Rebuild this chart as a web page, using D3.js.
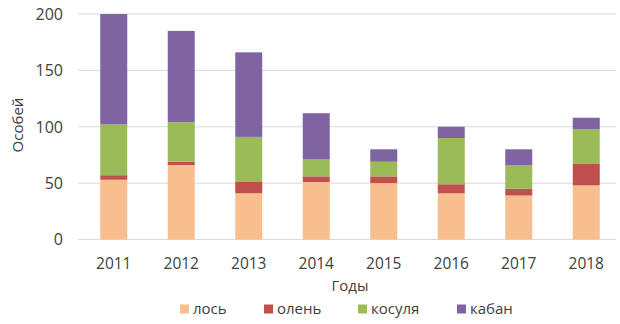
<!DOCTYPE html>
<html>
<head>
<meta charset="utf-8">
<script src="https://cdn.jsdelivr.net/npm/d3@7"></script>
<style>
  html, body { margin: 0; padding: 0; background: #fff; }
  text { font-family: "Open Sans", sans-serif; fill: #404040; }
</style>
</head>
<body>
<svg id="chart" width="620" height="324"></svg>
<script>
const years = ["2011", "2012", "2013", "2014", "2015", "2016", "2017", "2018"];
const seriesNames = ["лось", "олень", "косуля", "кабан"];
const los    = [53, 66, 41, 51, 50, 41, 39, 48];
const olen   = [4, 3, 10, 5, 6, 8, 6, 19];
const kosulya = [45, 35, 40, 15, 13, 41, 21, 31];
const kaban  = [98, 81, 75, 41, 11, 10, 14, 10];
const yTicks = [0, 50, 100, 150, 200];
const colors = ["#F9BE8E", "#C0504D", "#9BBB59", "#8064A2"];

const rows = years.map((y, i) => ({
  year: y, "лось": los[i], "олень": olen[i], "косуля": kosulya[i], "кабан": kaban[i]
}));

const svg = d3.select("#chart");
const x = d3.scaleBand().domain(years).range([80, 620]).paddingInner(0.6).paddingOuter(0.3);
const y = d3.scaleLinear().domain([0, 200]).range([239.5, 14]);

// gridlines
svg.append("g").selectAll("line").data(yTicks).join("line")
  .attr("x1", 78).attr("x2", 616)
  .attr("y1", d => y(d)).attr("y2", d => y(d))
  .attr("stroke", "#d9d9d9").attr("stroke-width", 1);

// y labels
const yAxis = d3.axisLeft(y).tickValues(yTicks).tickSize(0).tickPadding(0);
const gy = svg.append("g").attr("transform", "translate(63,0)").call(yAxis);
gy.select(".domain").remove();
gy.selectAll("text").style("font-size", "16px").attr("fill", "#404040").attr("dy", "0.34em");

// stacked bars
const stack = d3.stack().keys(seriesNames)(rows);
svg.append("g").selectAll("g").data(stack).join("g")
  .attr("fill", (d, i) => colors[i])
  .selectAll("rect").data(d => d).join("rect")
  .attr("x", d => x(d.data.year))
  .attr("width", x.bandwidth())
  .attr("y", d => y(d[1]))
  .attr("height", d => y(d[0]) - y(d[1]));

// x labels
const xAxis = d3.axisBottom(x).tickSize(0).tickPadding(0);
const gx = svg.append("g").attr("transform", "translate(0,258)").call(xAxis);
gx.select(".domain").remove();
gx.selectAll("text").style("font-size", "15.5px").attr("fill", "#404040").attr("dy", "0.71em");

// axis titles
svg.append("text").attr("x", 350).attr("y", 286).attr("dy", "0.35em")
  .attr("text-anchor", "middle").style("font-size", "15px").text("Годы");
svg.append("text").attr("transform", "translate(18,125) rotate(-90)").attr("dy", "0.35em")
  .attr("text-anchor", "middle").style("font-size", "15px").text("Особей");

// legend
const legendX = [180, 264, 358, 457];
const lg = svg.append("g").selectAll("g").data(seriesNames).join("g")
  .attr("transform", (d, i) => `translate(${legendX[i]},309)`);
lg.append("rect").attr("x", 0).attr("y", -4.5).attr("width", 9).attr("height", 9)
  .attr("fill", (d, i) => colors[i]);
lg.append("text").attr("x", 13).attr("dy", "0.35em").style("font-size", "15px").text(d => d);
</script>
</body>
</html>
